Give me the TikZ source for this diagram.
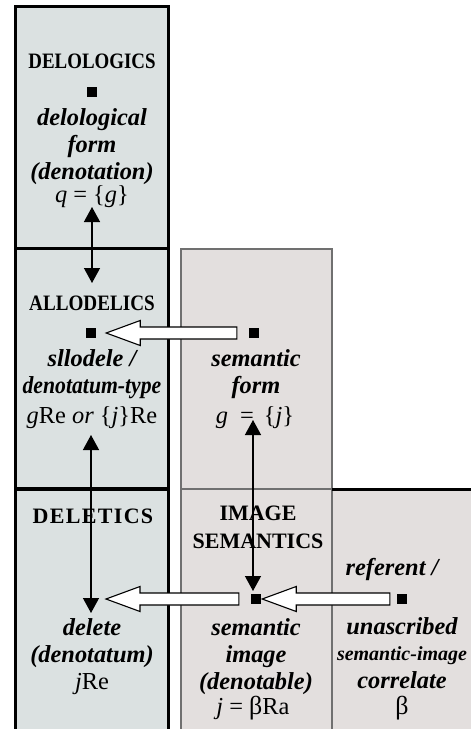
\documentclass[tikz,border=0pt]{standalone}
\usepackage{fontspec}
\setmainfont{Liberation Serif}
\usepackage{graphicx}
\usetikzlibrary{arrows.meta}
\usetikzlibrary{calc}

\definecolor{delofill}{RGB}{219,225,225}
\definecolor{semfill}{RGB}{227,223,222}
\definecolor{semline}{RGB}{112,112,112}

\tikzset{
  head/.style={font=\fontsize{22}{28}\selectfont\bfseries, inner sep=0pt, anchor=base, align=center},
  term/.style={font=\fontsize{24.4}{27}\selectfont\bfseries\itshape, inner sep=0pt, anchor=base, align=center},
  formula/.style={font=\fontsize{24.4}{27}\selectfont, inner sep=0pt, anchor=base},
  dot/.style={fill=black, minimum size=10pt, inner sep=0pt},
  link/.style={{Triangle[length=15pt,width=16pt]}-{Triangle[length=15pt,width=16pt]}, line width=1.3pt},
  % hollow block arrow, drawn leftwards from the tail to the tip
  fat arrow/.style={fill=white, line width=1.1pt, line join=miter, to path={
    let \p1=(\tikztostart), \p2=(\tikztotarget) in
    (\x1,\y1+6pt) -- (\x2+34pt,\y1+6pt) -- (\x2+34pt,\y1+12.5pt) -- (\x2,\y1)
    -- (\x2+34pt,\y1-12.5pt) -- (\x2+34pt,\y1-6pt) -- (\x1,\y1-6pt) -- cycle}}
}

\begin{document}
\begin{tikzpicture}[x=1pt, y=-1pt]
\useasboundingbox (0,0) rectangle (471,729);
\clip (0,0) rectangle (471,729);

% columns
\fill[delofill] (15.5,6.5) rectangle (168.5,740);
\fill[semfill] (181,249) rectangle (332,740);
\fill[semfill] (332,489) rectangle (480,740);

\draw[semline, line width=1.2pt] (181,740) -- (181,249) -- (332,249) -- (332,740);
\draw[semline, line width=1.2pt] (181,489) -- (332,489);

\draw[line width=3.5pt, line join=miter] (15.5,740) -- (15.5,6.5) -- (168.5,6.5) -- (168.5,740);
\draw[line width=3.5pt] (15.5,248.5) -- (168.5,248.5);
\draw[line width=3.5pt] (15.5,489) -- (168.5,489);
\draw[line width=3.5pt] (332,489.5) -- (480,489.5);

% headings (base = last line)
\node[head] (delo) at (92,68) {\scalebox{0.86}[1]{DELOLOGICS}};
\node[head] (allo) at (92,310) {\scalebox{0.87}[1]{ALLODELICS}};
\node[head] (dele) at (93,523) {\addfontfeature{LetterSpace=6}DELETICS};
\node[head] (imsem) at (258,548) {IMAGE\\SEMANTICS};

% points
\node[dot] (qsq) at (92,92) {};
\node[dot] (gre) at (91,333) {};
\node[dot] (sform) at (254,333) {};
\node[dot] (simg) at (256,599) {};
\node[dot] (refsq) at (402,599) {};

% terms
\node[term] (delo t) at (92,179) {delological\\form\\(denotation)};
\node[formula] (qeq) at (92,202) {\textit{q} = \{\textit{g}\}};
\node[term] (allo t) at (92,393) {sllodele /\\\scalebox{0.89}[1]{denotatum-type}};
\node[formula] (greq) at (92,423) {\textit{g}Re \textit{or} \{\textit{j}\}Re};
\node[term] (sf t) at (256,393) {semantic\\form};
\node[formula] (gj) at (255,423) {\textit{g}\hspace{12pt}=\hspace{10pt}\{\textit{j}\}};
\node[term] (dele t) at (92,662) {delete\\(denotatum)};
\node[formula] (jre) at (92,689) {\textit{j}Re};
\node[term] (si t) at (256,689) {semantic\\image\\(denotable)};
\node[formula] (jb) at (253,714) {\textit{j} = {\fontsize{26}{26}\selectfont β}Ra};
\node[term] (ref t) at (392,575) {referent /};
\node[term] (unas t) at (402,634) {unascribed};
\node[term, font=\fontsize{20}{27}\selectfont\bfseries\itshape] (simcor t) at (402,660) {semantic-image};
\node[term] (corr t) at (402,688) {correlate};
\node[formula, font=\fontsize{26}{26}\selectfont] (beta) at (402,714) {β};

% vertical links
\coordinate (q top) at (92,207);
\coordinate (allo bot) at (92,283);
\coordinate (gre top) at (91,435);
\coordinate (delete) at (91,613);
\coordinate (gj top) at (253,420);
\coordinate (simg top) at (253,591);
\draw[link] (q top) -- (allo bot);
\draw[link] (gre top) -- (delete);
\draw[link] (gj top) -- (simg top);

% block arrows
\coordinate (sf tail) at ([xshift=-12pt]sform.west);
\coordinate (gre tip) at ([xshift=10pt]gre.east);
\coordinate (si tail) at ([xshift=-12pt]simg.west);
\coordinate (dele tip) at (106,599);
\coordinate (ref tail) at ([xshift=-7pt]refsq.west);
\coordinate (si tip) at ([xshift=1pt]simg.east);
\draw[fat arrow] (sf tail) to (gre tip);
\draw[fat arrow] (si tail) to (dele tip);
\draw[fat arrow] (ref tail) to (si tip);
\end{tikzpicture}
\end{document}
